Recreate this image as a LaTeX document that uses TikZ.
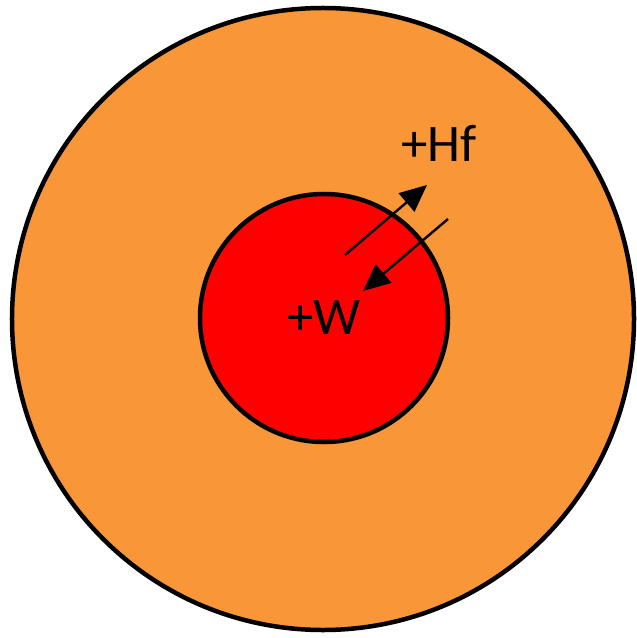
\documentclass[tikz,border=0pt]{standalone}
\usepackage{fontspec}
\setmainfont{Carlito}
\usetikzlibrary{arrows.meta}
\definecolor{outerorange}{RGB}{248,150,56}
\definecolor{innerred}{RGB}{255,0,0}
\tikzset{
  disc/.style={draw=black, line width=4.5bp},
  flux/.style={draw=black, line width=2.4bp, -{Triangle[length=27bp,width=24bp]}},
  lbl/.style={font=\fontsize{53}{63}\selectfont, inner sep=0pt}
}
\begin{document}
\begin{tikzpicture}[x=1bp,y=-1bp]
\useasboundingbox (0,0) rectangle (637,638);
\node[disc, circle, fill=outerorange, minimum size=622bp, inner sep=0pt] (outer) at (323,319) {};
\node[disc, circle, fill=innerred, minimum size=248bp, inner sep=0pt] (inner) at (324,318) {};
\coordinate (a1s) at (345,255);
\coordinate (a1e) at (427,185);
\coordinate (a2s) at (448,219);
\coordinate (a2e) at (363,291);
\draw[flux] (a1s) -- (a1e);
\draw[flux] (a2s) -- (a2e);
\node[lbl] (hf) at (439,143) {+Hf};
\node[lbl] (w) at (324,318) {+W};
\end{tikzpicture}
\end{document}
